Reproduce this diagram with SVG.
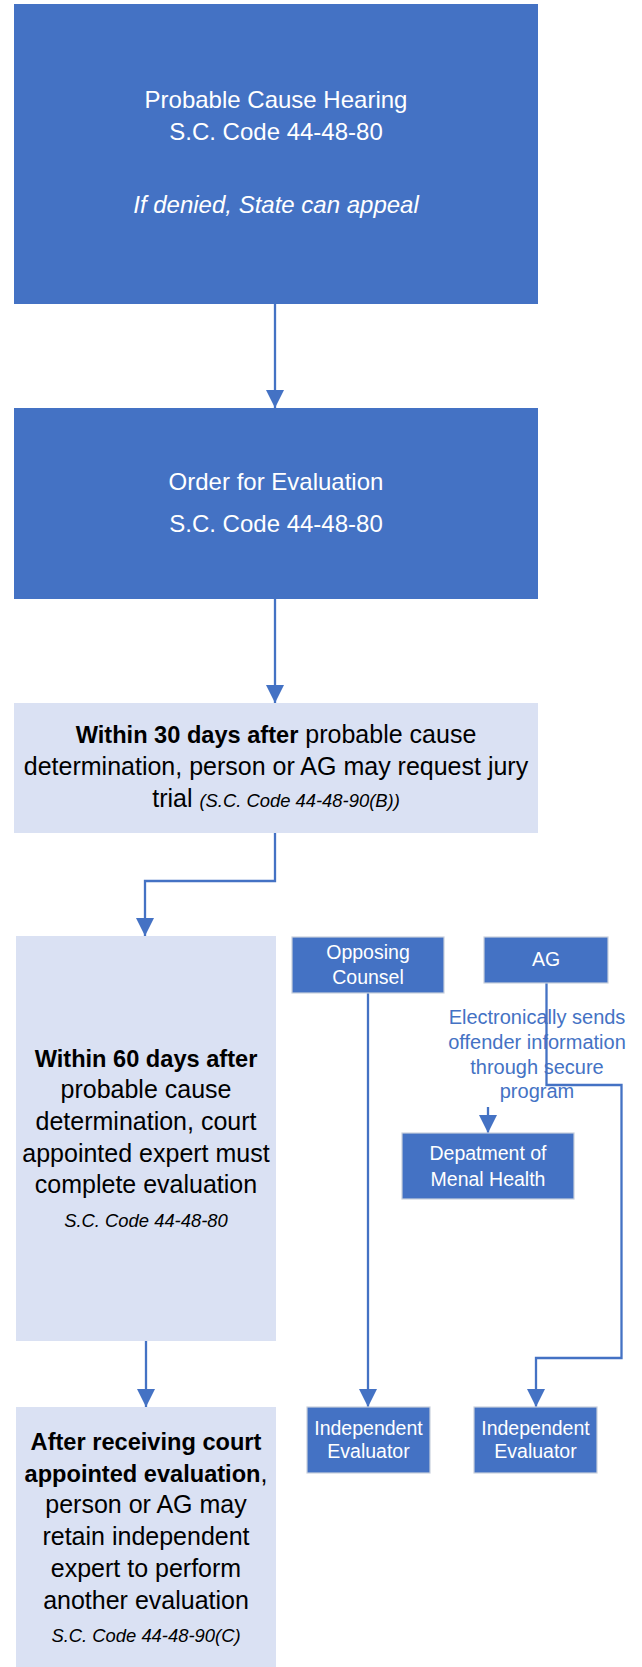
<svg xmlns="http://www.w3.org/2000/svg" width="642" height="1667" viewBox="0 0 642 1667">
<style>
  .dark { fill: #4472C4; }
  .small { fill: #4472C4; stroke: #C9D0DC; stroke-width: 1.2; }
  .light { fill: #DAE1F3; }
  .wt { font-family: "Liberation Sans", Arial, sans-serif; fill: #FFFFFF; text-anchor: middle; }
  .bt { font-family: "Liberation Sans", Arial, sans-serif; fill: #000000; text-anchor: middle; font-size: 25px; }
  .lbl { font-family: "Liberation Sans", Arial, sans-serif; fill: #4472C4; text-anchor: middle; font-size: 20px; }
  .b { font-weight: bold; font-size: 23.6px; }
  .it { font-style: italic; font-size: 18.4px; }
  .conn { fill: none; stroke: #4472C4; stroke-width: 2.3; marker-end: url(#arrow); }
</style>
<defs>
  <marker id="arrow" markerUnits="userSpaceOnUse" markerWidth="18" markerHeight="18" refX="18" refY="9" orient="auto">
    <path d="M0,0 L18,9 L0,18 z" fill="#4472C4"/>
  </marker>
</defs>
<rect width="642" height="1667" fill="#FFFFFF"/>

<g id="label-electronic">
  <text class="lbl" x="537" y="1024">Electronically sends</text>
  <text class="lbl" x="537" y="1049">offender information</text>
  <text class="lbl" x="537" y="1074">through secure</text>
  <text class="lbl" x="537" y="1098">program</text>
</g>

<g id="connectors">
  <path class="conn" d="M275,304 V408"/>
  <path class="conn" d="M275,599 V703"/>
  <path class="conn" d="M275,833 V881 H145 V936"/>
  <path class="conn" d="M146,1341 V1407"/>
  <path class="conn" d="M368,993 V1407"/>
  <path class="conn" d="M546.5,983 V1085 H621.5 V1358 H536 V1407"/>
  <path class="conn" d="M488,1107 V1133"/>
</g>

<g id="probable-cause-hearing">
  <rect class="dark" x="14" y="4" width="524" height="300"/>
  <text class="wt" x="276" y="108" font-size="24">Probable Cause Hearing</text>
  <text class="wt" x="276" y="140" font-size="24">S.C. Code 44-48-80</text>
  <text class="wt" x="276" y="213" font-size="24" font-style="italic">If denied, State can appeal</text>
</g>

<g id="order-for-evaluation">
  <rect class="dark" x="14" y="408" width="524" height="191"/>
  <text class="wt" x="276" y="490" font-size="24">Order for Evaluation</text>
  <text class="wt" x="276" y="532" font-size="24">S.C. Code 44-48-80</text>
</g>

<g id="within-30-days">
  <rect class="light" x="14" y="703" width="524" height="130"/>
  <text class="bt" x="276" y="743"><tspan class="b">Within 30 days after</tspan> probable cause</text>
  <text class="bt" x="276" y="775">determination, person or AG may request jury</text>
  <text class="bt" x="276" y="807">trial <tspan class="it">(S.C. Code 44-48-90(B))</tspan></text>
</g>

<g id="within-60-days">
  <rect class="light" x="16" y="936" width="260" height="405"/>
  <text class="bt" x="146" y="1067"><tspan class="b">Within 60 days after</tspan></text>
  <text class="bt" x="146" y="1098">probable cause</text>
  <text class="bt" x="146" y="1130">determination, court</text>
  <text class="bt" x="146" y="1162">appointed expert must</text>
  <text class="bt" x="146" y="1193">complete evaluation</text>
  <text class="bt" x="146" y="1227"><tspan class="it">S.C. Code 44-48-80</tspan></text>
</g>

<g id="after-receiving">
  <rect class="light" x="16" y="1407" width="260" height="260"/>
  <text class="bt" x="146" y="1450"><tspan class="b">After receiving court</tspan></text>
  <text class="bt" x="146" y="1482"><tspan class="b">appointed evaluation</tspan>,</text>
  <text class="bt" x="146" y="1513">person or AG may</text>
  <text class="bt" x="146" y="1545">retain independent</text>
  <text class="bt" x="146" y="1577">expert to perform</text>
  <text class="bt" x="146" y="1609">another evaluation</text>
  <text class="bt" x="146" y="1642"><tspan class="it">S.C. Code 44-48-90(C)</tspan></text>
</g>

<g id="opposing-counsel">
  <rect class="small" x="292" y="937" width="152" height="56"/>
  <text class="wt" x="368" y="959" font-size="19.5">Opposing</text>
  <text class="wt" x="368" y="984" font-size="19.5">Counsel</text>
</g>

<g id="ag">
  <rect class="small" x="484" y="937" width="124" height="46"/>
  <text class="wt" x="546" y="966" font-size="19.5">AG</text>
</g>

<g id="dept-mental-health">
  <rect class="small" x="402" y="1133" width="172" height="66"/>
  <text class="wt" x="488" y="1160" font-size="19.5">Depatment of</text>
  <text class="wt" x="488" y="1186" font-size="19.5">Menal Health</text>
</g>

<g id="independent-evaluator-1">
  <rect class="small" x="307" y="1407" width="123" height="66"/>
  <text class="wt" x="368.5" y="1435" font-size="19.5">Independent</text>
  <text class="wt" x="368.5" y="1458" font-size="19.5">Evaluator</text>
</g>

<g id="independent-evaluator-2">
  <rect class="small" x="474" y="1407" width="123" height="66"/>
  <text class="wt" x="535.5" y="1435" font-size="19.5">Independent</text>
  <text class="wt" x="535.5" y="1458" font-size="19.5">Evaluator</text>
</g>
</svg>
